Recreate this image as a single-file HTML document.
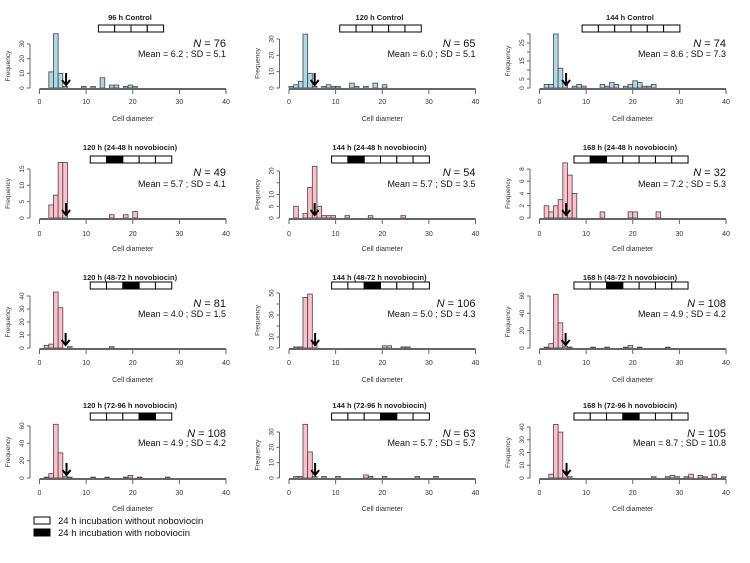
<!DOCTYPE html>
<html><head><meta charset="utf-8">
<style>
body{margin:0;background:#fff;}
svg{display:block;font-family:"Liberation Sans",sans-serif;}
</style></head>
<body>
<svg id="fig" width="750" height="563" viewBox="0 0 750 563"></svg>
<script>
// ---- data ----
const titles=["96 h Control","120 h Control","144 h Control",
"120 h (24-48 h novobiocin)","144 h (24-48 h novobiocin)","168 h (24-48 h novobiocin)",
"120 h (48-72 h novobiocin)","144 h (48-72 h novobiocin)","168 h (48-72 h novobiocin)",
"120 h (72-96 h novobiocin)","144 h (72-96 h novobiocin)","168 h (72-96 h novobiocin)"];
const nValues=[76,65,74,49,54,32,81,106,108,108,63,105];
const meanValues=["6.2","6.0","8.6","5.7","5.7","7.2","4.0","5.0","4.9","4.9","5.7","8.7"];
const sdValues=["5.1","5.1","7.3","4.1","3.5","5.3","1.5","4.3","4.2","4.2","5.7","10.8"];
const arrowValues=[5.7,5.5,5.7,5.7,5.5,5.7,5.6,5.6,5.6,5.8,5.6,5.8];
const yMax=[30,30,30,15,20,8,40,50,60,60,30,40];
const yStep=[10,10,5,5,5,2,10,10,20,20,10,10];
const yLabelSkip=[1,1,2,1,2,1,1,2,1,1,1,1];
const cellCount=[4,5,6,5,6,7,5,6,7,5,6,7];
const blackCell=[-1,-1,-1,1,1,1,2,2,2,3,3,3];
const p1Bins=[2,3,4,5,9,11,13,15,16,18,19,20];
const p1Counts=[11,37,10,1,1,1,7,2,2,1,2,1];
const p2Bins=[0,1,2,3,4,5,7,8,9,10,13,14,16,18,20];
const p2Counts=[1,2,4,33,9,1,1,2,1,1,3,1,1,3,2];
const p3Bins=[1,2,3,4,5,7,8,9,13,14,15,16,18,19,20,21,22,23,24];
const p3Counts=[2,2,30,11,3,1,2,1,2,1,3,2,1,2,4,3,1,1,2];
const p4Bins=[2,3,4,5,15,18,20];
const p4Counts=[4,7,17,17,1,1,2];
const p5Bins=[1,3,4,5,6,7,8,9,12,17,24];
const p5Counts=[5,2,13,22,5,1,1,1,1,1,1];
const p6Bins=[1,2,3,4,5,6,7,13,19,20,25];
const p6Counts=[2,1,2,3,9,7,4,1,1,1,1];
const p7Bins=[1,2,3,4,6,15];
const p7Counts=[2,3,43,31,1,1];
const p8Bins=[1,2,3,4,5,20,21,24,25];
const p8Counts=[1,1,46,49,5,2,2,1,1];
const p9Bins=[1,2,3,4,5,6,11,14,18,19,21,27];
const p9Counts=[1,5,62,29,2,1,1,1,1,3,1,1];
const p10Bins=[1,2,3,4,5,6,11,14,18,19,21,27];
const p10Counts=[1,5,62,29,2,1,1,1,1,3,1,1];
const p11Bins=[1,2,3,4,5,7,10,16,17,20,27,31];
const p11Counts=[1,1,35,17,1,1,1,2,1,1,1,1];
const p12Bins=[2,3,4,5,6,24,27,28,29,31,32,34,35,37,39];
const p12Counts=[3,42,36,5,1,1,1,2,1,1,3,2,1,3,1];
const allBins=[p1Bins,p2Bins,p3Bins,p4Bins,p5Bins,p6Bins,p7Bins,p8Bins,p9Bins,p10Bins,p11Bins,p12Bins];
const allCounts=[p1Counts,p2Counts,p3Counts,p4Counts,p5Counts,p6Counts,p7Counts,p8Counts,p9Counts,p10Counts,p11Counts,p12Counts];

// ---- layout ----
const colOff=[0,249.5,500];
const rows=[{base:88,title:20,boxT:25,boxB:32,tick:104,xlab:121,nY:47,mY:57,yTopPx:44},
{base:218,title:150,boxT:156,boxB:163,tick:236,xlab:251,nY:176,mY:187,yTopPx:169},
{base:348,title:280,boxT:282,boxB:289,tick:365,xlab:382,nY:307,mY:317,yTopPx:296},
{base:478,title:408,boxT:413,boxB:420,tick:495,xlab:511,nY:437,mY:446,yTopPx:426}];
const rowTop=[[44,39,34],[169,171,169],[296,293,296],[426,432,427]];
const svg=document.getElementById('fig');
const NS="http://www.w3.org/2000/svg";
function mk(tag,attrs,parent,text){const e=document.createElementNS(NS,tag);for(const k in attrs)e.setAttribute(k,attrs[k]);if(text!==undefined)e.textContent=text;(parent||svg).appendChild(e);return e;}

for(let p=0;p<12;p++){
  const r=Math.floor(p/3),c=p%3,R=rows[r],off=colOff[c];
  const g=mk('g',{});
  
  
  const xS=v=>off+39.5+v*(186.5/40);
  const topPx=rowTop[r][c];
  const yS=v=>R.base-v*(R.base-topPx)/yMax[p];
  const fill=p<3?'#add8e6':'#ffc0cb';
  // bars
  allBins[p].forEach((b,i)=>{
    const h=R.base-yS(allCounts[p][i]);
    const rect=mk('rect',{x:xS(b),y:yS(allCounts[p][i]),width:xS(b+1)-xS(b),height:h,fill:fill,stroke:'#444','stroke-width':0.8},g);
    
    
  });
  // x axis
  const xa=mk('g',{},g);
  
  
  mk('line',{x1:xS(0),x2:xS(40),y1:R.base+1,y2:R.base+1,stroke:'#666','stroke-width':2},xa);
  for(let t=0;t<=40;t+=10){
    mk('line',{x1:xS(t),x2:xS(t),y1:R.base+1,y2:R.base+6,stroke:'#666','stroke-width':1},xa);
    const tl=mk('text',{x:xS(t),y:R.tick,'font-size':7,fill:'#333','text-anchor':'middle'},xa,String(t));
    
    
  }
  const xl=mk('text',{x:xS(20),y:R.xlab,'font-size':7,fill:'#333','text-anchor':'middle'},g,'Cell diameter');
  
  
  // y axis
  const ya=mk('g',{},g);
  
  
  mk('line',{x1:off+30,x2:off+30,y1:yS(0),y2:yS(yMax[p]),stroke:'#666','stroke-width':1},ya);
  let k=0;
  for(let t=0;t<=yMax[p]+1e-9;t+=yStep[p],k++){
    mk('line',{x1:off+27,x2:off+30,y1:yS(t),y2:yS(t),stroke:'#666','stroke-width':1},ya);
    if(k%yLabelSkip[p]===0 || (p===2&&k%2===1)){}
    let show = yLabelSkip[p]===1 ? true : (p===2 ? [0,5,15,25].includes(t) : [0,10,30,50,5,20].includes(t)&&!(p===7&&(t===20||t===5))&&!(p===4&&(t===15)));
    if(p===4) show=[0,5,10,20].includes(t);
    if(p===7) show=[0,10,30,50].includes(t);
    if(show){
      const yl=mk('text',{x:off+24,y:yS(t),'font-size':6.5,fill:'#333','text-anchor':'middle',transform:`rotate(-90 ${off+24} ${yS(t)})`},ya,String(t));
      
      
    }
  }
  const fy=(yS(0)+yS(yMax[p]))/2;
  const ft=mk('text',{x:off+10,y:fy,'font-size':6.5,fill:'#333','text-anchor':'middle',transform:`rotate(-90 ${off+10} ${fy})`},g,'Frequency');
  
  
  // title
  const ti=mk('text',{x:off+130,y:R.title,'font-size':7.5,'font-weight':'bold',fill:'#222','text-anchor':'middle'},g,titles[p]);
  
  
  // timeline box
  const cw=16.3,n=cellCount[p],bx=off+131-n*cw/2;
  for(let i=0;i<n;i++){
    const cell=mk('rect',{x:bx+i*cw,y:R.boxT,width:cw,height:R.boxB-R.boxT,fill:i===blackCell[p]?'#000':'#fff',stroke:'#000','stroke-width':1},g);
    
    
  }
  // N and stats
  const nt=mk('text',{x:off+226,y:R.nY,'font-size':11,fill:'#111','text-anchor':'end'},g);
  
  
  mk('tspan',{'font-style':'italic'},nt,'N');
  mk('tspan',{},nt,' = '+nValues[p]);
  const mt=mk('text',{x:off+226,y:R.mY,'font-size':9,fill:'#111','text-anchor':'end'},g,'Mean = '+meanValues[p]+' ; SD = '+sdValues[p]);
  
  
  // arrow
  const ax=xS(arrowValues[p]),tip=R.base-3;
  const ar=mk('path',{d:`M${ax} ${tip-12} L${ax} ${tip} M${ax-4} ${tip-5} L${ax} ${tip} L${ax+4} ${tip-5}`,stroke:'#000','stroke-width':2,fill:'none'},g);
  
  
}
// legend
const lg=mk('g',{});


const l1=mk('rect',{x:34,y:517,width:16,height:7,fill:'#fff',stroke:'#000','stroke-width':1},lg);


const t1=mk('text',{x:58,y:524,'font-size':9.5,fill:'#111'},lg,'24 h incubation without noboviocin');


const l2=mk('rect',{x:34,y:529,width:16,height:7,fill:'#000',stroke:'#000','stroke-width':1},lg);


const t2=mk('text',{x:58,y:536,'font-size':9.5,fill:'#111'},lg,'24 h incubation with noboviocin');


</script>
</body></html>
